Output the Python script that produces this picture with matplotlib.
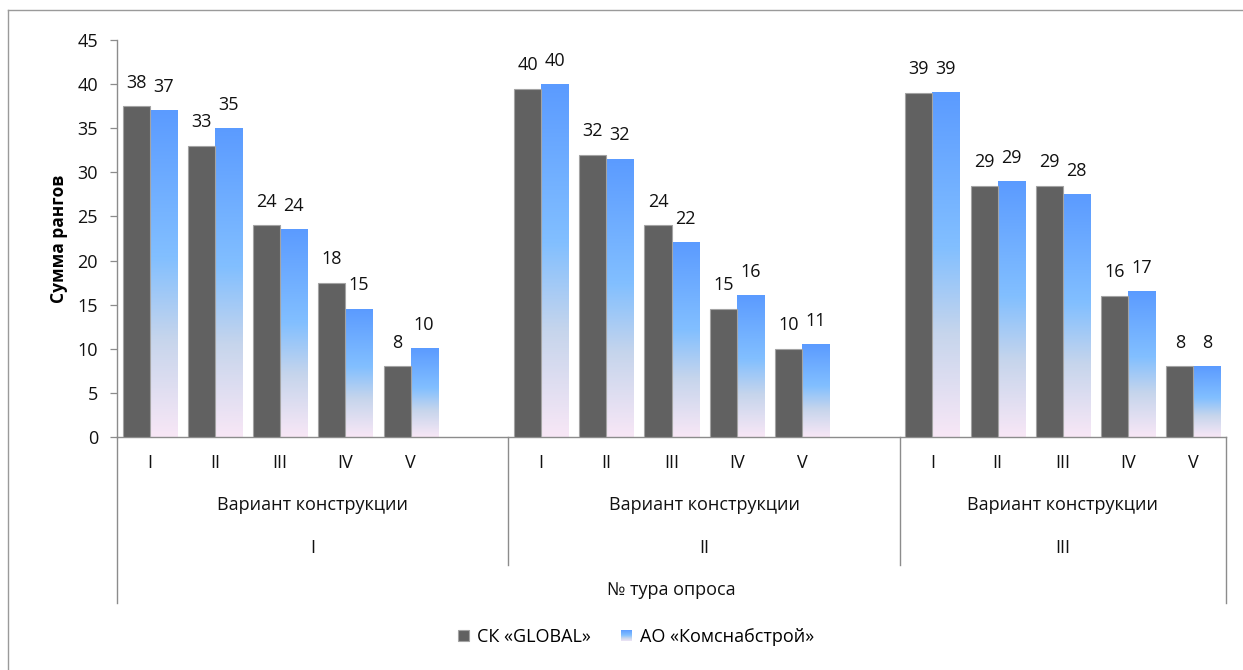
import numpy as np
import matplotlib
matplotlib.use('Agg')
import matplotlib.pyplot as plt
from matplotlib.colors import LinearSegmentedColormap
from matplotlib.patches import Rectangle
from matplotlib.lines import Line2D
from matplotlib.legend_handler import HandlerBase

plt.rcParams['font.family'] = ['Open Sans', 'DejaVu Sans']

# survey rounds and design variants
rounds = ['I', 'II', 'III']
variants = ['I', 'II', 'III', 'IV', 'V']
variant_title = 'Вариант конструкции'
round_title = '№ тура опроса'
series_names = ['СК «GLOBAL»', 'АО «Комснабстрой»']

# sum of ranks per round (rows) and variant (columns)
global_vals = [[37.5, 33, 24, 17.5, 8],
               [39.5, 32, 24, 14.5, 10],
               [39, 28.5, 28.5, 16, 8]]
komsnab_vals = [[37, 35, 23.5, 14.5, 10],
                [40, 31.5, 22, 16, 10.5],
                [39, 29, 27.5, 16.5, 8]]

dark = '#616161'
blue_grad = LinearSegmentedColormap.from_list(
    'blue_pink', [(0.0, '#f8e7f6'), (0.3, '#c6d5ec'),
                  (0.55, '#82bfff'), (1.0, '#5b9bff')])
fs = 13


def excel_round(v):
    return int(np.floor(v + 0.5))


class GradientHandler(HandlerBase):
    # legend key filled with the same vertical gradient as the bars
    def create_artists(self, legend, orig_handle, xdescent, ydescent,
                       width, height, fontsize, trans):
        n = 24
        arts = []
        for i in range(n):
            arts.append(Rectangle((-xdescent, -ydescent + height * i / n),
                                  width, height / n * 1.05,
                                  facecolor=blue_grad((i + 0.5) / n),
                                  edgecolor='none', transform=trans))
        return arts


fig = plt.figure(figsize=(12.43, 6.70), dpi=100)
ax = fig.add_axes([117 / 1243, 233 / 670, 1109 / 1243, 397 / 670])

# each round takes 6 slots (5 variants + a blank), the last one only 5
slot = 6
xs = np.array([g * slot + c for g in range(len(rounds))
               for c in range(len(variants))], dtype=float)
g_vals = np.array(global_vals).ravel()
k_vals = np.array(komsnab_vals).ravel()
w = 0.414

bars_g = ax.bar(xs - w / 2, g_vals, w, color=dark, edgecolor='#a3a3a3',
                linewidth=0.8, zorder=3, label=series_names[0])
bars_k = ax.bar(xs + w / 2, k_vals, w, facecolor='none', edgecolor='none',
                zorder=3, label=series_names[1])

grad = np.linspace(0, 1, 256).reshape(-1, 1)
for p in bars_k:
    x0 = p.get_x()
    ax.imshow(grad, extent=(x0, x0 + p.get_width(), 0, p.get_height()),
              origin='lower', aspect='auto', cmap=blue_grad, zorder=2,
              interpolation='bilinear')

# value labels
for bars, vals in ((bars_g, g_vals), (bars_k, k_vals)):
    for p, v in zip(bars, vals):
        ax.annotate(str(excel_round(v)),
                    (p.get_x() + p.get_width() / 2, v),
                    xytext=(0, 17), textcoords='offset points',
                    ha='center', va='center', fontsize=fs, color='#111111')

xmax = (len(rounds) - 1) * slot + len(variants) - 0.5
ax.set_xlim(-0.5, xmax)
ax.set_ylim(0, 45)
ax.set_yticks(np.arange(0, 46, 5))
ax.set_xticks([])
ax.tick_params(axis='y', length=4.7, width=0.9, color='#8c8c8c', pad=9,
               labelsize=fs, labelcolor='#111111')
for s in ('top', 'right'):
    ax.spines[s].set_visible(False)
for s in ('left', 'bottom'):
    ax.spines[s].set_color('#8c8c8c')
    ax.spines[s].set_linewidth(1.0)

ax.set_ylabel('Сумма рангов', fontsize=12.5, fontweight='bold')
ax.yaxis.set_label_coords(-0.044, 0.5)

# multi-level category axis
tr = ax.get_xaxis_transform()
row_var, row_title, row_round, row_outer = -0.0655, -0.1713, -0.2796, -0.3854
sep_inner, sep_outer = -0.3224, -0.418
for x, lab in zip(xs, [v for _ in rounds for v in variants]):
    ax.text(x, row_var, lab, transform=tr, ha='center', va='center',
            fontsize=fs, color='#111111')
for g, r in enumerate(rounds):
    left = g * slot - 0.5
    right = min(left + slot, xmax)
    mid = (left + right) / 2
    ax.text(mid, row_title, variant_title, transform=tr, ha='center',
            va='center', fontsize=fs, color='#111111')
    ax.text(mid, row_round, r, transform=tr, ha='center', va='center',
            fontsize=fs, color='#111111')
    if g > 0:
        ax.plot([left, left], [0, sep_inner], transform=tr, color='#8c8c8c',
                lw=1.0, clip_on=False)
for x in (-0.5, xmax):
    ax.plot([x, x], [0, sep_outer], transform=tr, color='#8c8c8c',
            lw=1.0, clip_on=False)
ax.text((xmax - 0.5) / 2, row_outer, round_title, transform=tr,
        ha='center', va='center', fontsize=fs, color='#111111')

# chart frame
fig.add_artist(Line2D([8 / 1243, 8 / 1243], [0, 1 - 10 / 670],
                      transform=fig.transFigure, color='#9a9a9a', lw=1.0))
fig.add_artist(Line2D([8 / 1243, 1], [1 - 10 / 670, 1 - 10 / 670],
                      transform=fig.transFigure, color='#9a9a9a', lw=1.0))

fig.legend([bars_g[0], bars_k[0]], series_names, loc='center',
           bbox_to_anchor=(636 / 1243, 1 - 637 / 670), ncol=2,
           frameon=False, fontsize=fs, handlelength=0.62,
           handleheight=0.62, handletextpad=0.4, columnspacing=1.7,
           handler_map={bars_k[0]: GradientHandler()})

fig.savefig('out.png', dpi=100)
